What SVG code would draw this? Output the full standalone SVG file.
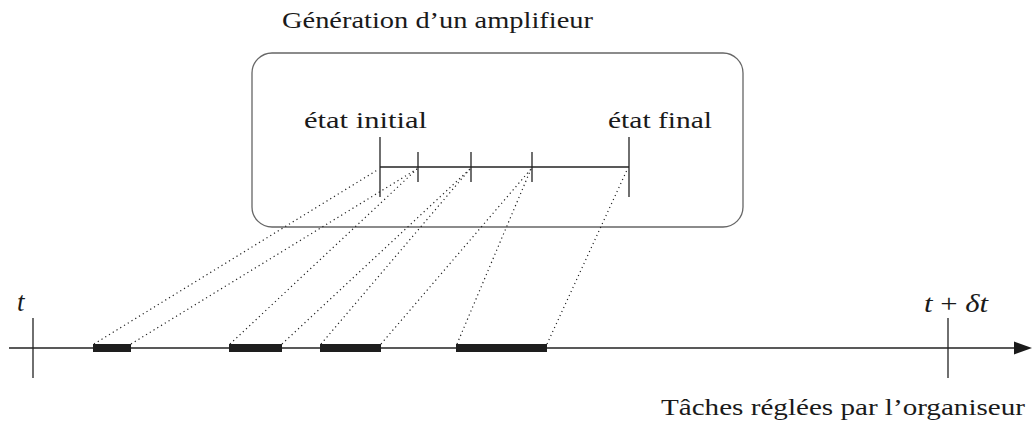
<svg xmlns="http://www.w3.org/2000/svg" width="1034" height="421" viewBox="0 0 1034 421">
<style>
.txt{font-family:'Liberation Serif','Times New Roman',Tinos,serif;font-size:24px;fill:#1a1a1a}
.it{font-style:italic}
.ln{stroke:#222;stroke-width:1.3;fill:none}
.dot{stroke:#222;stroke-width:1.2;stroke-dasharray:1.2 3.2;fill:none}
.bar{fill:#1e1e1e}
</style>
<rect width="1034" height="421" fill="#fff"/>
<g id="title">
<text class="txt" x="282" y="28" textLength="311" lengthAdjust="spacingAndGlyphs">Génération d’un amplifieur</text>
</g>
<g id="amplifier-box">
<rect x="252" y="53" width="491" height="174" rx="20" ry="20" fill="none" stroke="#666" stroke-width="1.3"/>
<text class="txt" x="304" y="128" textLength="123" lengthAdjust="spacingAndGlyphs">état initial</text>
<text class="txt" x="608" y="128" textLength="104" lengthAdjust="spacingAndGlyphs">état final</text>
<line class="ln" x1="380" y1="167" x2="629" y2="167"/>
<line class="ln" x1="380" y1="137" x2="380" y2="197"/>
<line class="ln" x1="629" y1="137" x2="629" y2="197"/>
<line class="ln" x1="418" y1="152" x2="418" y2="182"/>
<line class="ln" x1="471" y1="152" x2="471" y2="182"/>
<line class="ln" x1="532" y1="152" x2="532" y2="182"/>
</g>
<g id="timeline">
<line class="ln" x1="9" y1="348" x2="1018" y2="348"/>
<polygon points="1014,341.5 1032,348 1014,354.5" fill="#1a1a1a"/>
<line class="ln" x1="33" y1="318" x2="33" y2="378"/>
<line class="ln" x1="948" y1="318" x2="948" y2="378"/>
<text class="txt it" x="17" y="311" style="font-size:27px">t</text>
<text class="txt" x="924" y="312" style="font-size:26px" textLength="64" lengthAdjust="spacingAndGlyphs"><tspan class="it">t</tspan> + <tspan class="it">δt</tspan></text>
<text class="txt" x="661" y="415" textLength="364" lengthAdjust="spacingAndGlyphs">Tâches réglées par l’organiseur</text>
</g>
<g id="tasks">
<rect class="bar" x="93" y="344" width="38" height="8"/>
<rect class="bar" x="229" y="344" width="53" height="8"/>
<rect class="bar" x="320" y="344" width="61" height="8"/>
<rect class="bar" x="456" y="344" width="91" height="8"/>
</g>
<g id="connectors">
<line class="dot" x1="94" y1="344" x2="379" y2="169"/>
<line class="dot" x1="131" y1="344" x2="417" y2="169"/>
<line class="dot" x1="230" y1="344" x2="417" y2="169"/>
<line class="dot" x1="282" y1="344" x2="470" y2="169"/>
<line class="dot" x1="321" y1="344" x2="470" y2="169"/>
<line class="dot" x1="381" y1="344" x2="531" y2="169"/>
<line class="dot" x1="457" y1="344" x2="531" y2="169"/>
<line class="dot" x1="547" y1="344" x2="627" y2="170"/>
</g>
</svg>
